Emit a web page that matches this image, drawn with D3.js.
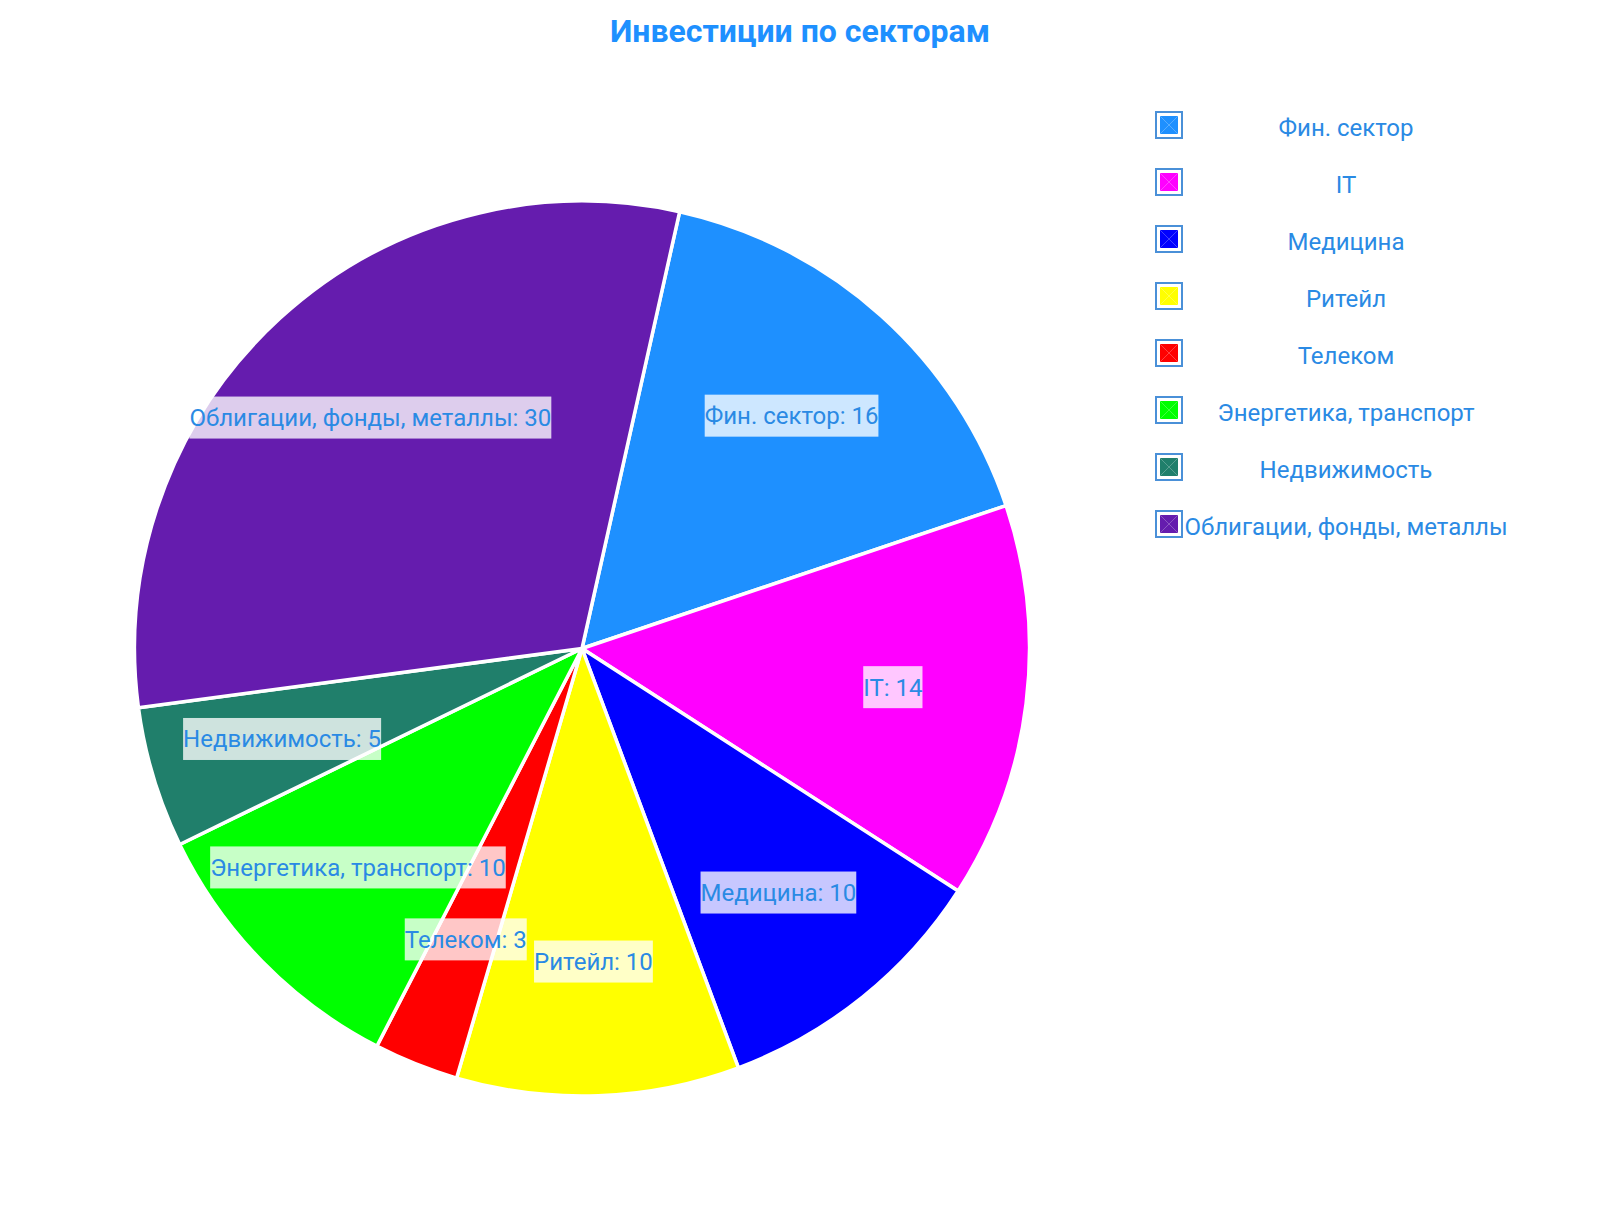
<!DOCTYPE html>
<html><head><meta charset="utf-8">
<script src="https://cdn.jsdelivr.net/npm/d3@7"></script>
<style>body{margin:0;background:#fff;} svg{display:block;font-family:Roboto, "Noto Sans", sans-serif;}</style>
</head><body>
<svg id="chart" width="1600" height="1208"></svg>
<script>
const categories = ["Фин. сектор","IT","Медицина","Ритейл","Телеком","Энергетика, транспорт","Недвижимость","Облигации, фонды, металлы"];
const values = [16,14,10,10,3,10,5,30];
const colors = ["#1E90FF","#FF00FF","#0000FF","#FFFF00","#FF0000","#00FF00","#207F6B","#651CAE"];
const title = "Инвестиции по секторам";

const svg = d3.select("#chart");
const cx = 582, cy = 648.5, R = 447.5;
const start = 12.6 * Math.PI / 180;
const textColor = "#2a8ae4";

svg.append("text").attr("x", 800).attr("y", 42).attr("text-anchor","middle")
  .attr("font-size", 32).attr("font-weight","bold").attr("fill","#1E90FF").text(title);

const data = categories.map((c,i)=>({name:c, value:values[i], color:colors[i]}));
const pie = d3.pie().value(d=>d.value).sort(null).startAngle(start).endAngle(start + 2*Math.PI);
const arcs = pie(data);
const arc = d3.arc().innerRadius(0).outerRadius(R);
const labelArc = d3.arc().innerRadius(R*0.70).outerRadius(R*0.70);

const g = svg.append("g").attr("transform",`translate(${cx},${cy})`);
g.selectAll("path.slice").data(arcs).join("path").attr("class","slice")
  .attr("d", arc).attr("fill", d=>d.data.color).attr("stroke","#fff").attr("stroke-width",3.5).attr("stroke-linejoin","round");

const lg = g.selectAll("g.lab").data(arcs).join("g").attr("class","lab")
  .attr("transform", d=>`translate(${labelArc.centroid(d)})`);
lg.each(function(d){
  const sel = d3.select(this);
  const rect = sel.append("rect");
  const t = sel.append("text").attr("text-anchor","middle").attr("dy","0.35em")
    .attr("font-size",24).attr("fill",textColor).text(`${d.data.name}: ${d.data.value}`);
  const bb = t.node().getBBox();
  rect.attr("x", bb.x).attr("y", -21).attr("width", bb.width).attr("height", 42)
    .attr("fill","#fff").attr("fill-opacity",0.78);
});

const leg = svg.append("g");
const legX = 1156, legY0 = 112, legStep = 57, sw = 26;
categories.forEach((c,i)=>{
  const y = legY0 + i*legStep;
  leg.append("rect").attr("x",legX).attr("y",y).attr("width",sw).attr("height",sw)
    .attr("fill","#fff").attr("stroke","#4a90d8").attr("stroke-width",2);
  leg.append("rect").attr("x",legX+4).attr("y",y+4).attr("width",sw-8).attr("height",sw-8).attr("fill",colors[i]);
  leg.append("path").attr("d",`M${legX+4},${y+4}L${legX+sw-4},${y+sw-4}M${legX+sw-4},${y+4}L${legX+4},${y+sw-4}`)
    .attr("stroke","#fff").attr("stroke-opacity",0.25).attr("stroke-width",1);
  leg.append("text").attr("x",1346).attr("y",y+sw/2+3).attr("dy","0.35em").attr("text-anchor","middle")
    .attr("font-size",24).attr("fill",textColor).text(c);
});
</script>
</body></html>
